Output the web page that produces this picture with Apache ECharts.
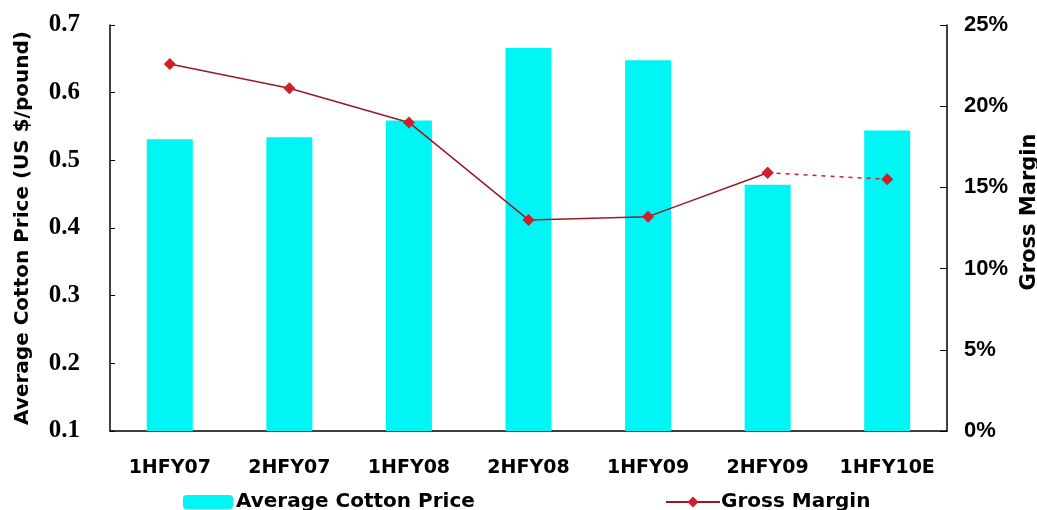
<!DOCTYPE html>
<html><head><meta charset="utf-8">
<script src="https://cdn.jsdelivr.net/npm/echarts@6/dist/echarts.min.js"></script>
<style>html,body{margin:0;padding:0;background:#fff}#c{width:1037px;height:510px}</style>
</head><body><div id="c"></div>
<script>
var categories = ['1HFY07','2HFY07','1HFY08','2HFY08','1HFY09','2HFY09','1HFY10E'];
var cottonPrice = [0.531, 0.534, 0.559, 0.666, 0.648, 0.464, 0.544];
var grossMarginActual = [22.6, 21.1, 19.0, 13.0, 13.2, 15.9, null];
var grossMarginEstimate = [null, null, null, null, null, 15.9, 15.5];
var leftTicks = {min: 0.1, max: 0.7, interval: 0.1};
var rightTicks = {min: 0, max: 25, interval: 5};

var font = 'DejaVu Sans, Liberation Sans, sans-serif';
var chart = echarts.init(document.getElementById('c'));
chart.setOption({
  backgroundColor: '#fff',
  animation: false,
  grid: {left: 110, right: 90, top: 25, bottom: 79, containLabel: false, outerBoundsMode: 'none'},
  legend: [
    {data: ['Average Cotton Price'], left: 178, top: 487, itemWidth: 50, itemHeight: 14, itemGap: 4,
     textStyle: {fontFamily: font, fontWeight: 'bold', fontSize: 20, color: '#000', padding: [0,0,0,-2]}},
    {data: ['Gross Margin'], left: 660, top: 487, itemWidth: 54, itemHeight: 14,
     textStyle: {fontFamily: font, fontWeight: 'bold', fontSize: 20, color: '#000', padding: [0,0,0,-4]}}
  ],
  xAxis: {
    type: 'category', data: categories,
    axisLine: {lineStyle: {color: '#000', width: 1.5}},
    axisTick: {show: false},
    axisLabel: {interval: 0, fontFamily: font, fontWeight: 'bold', fontSize: 19, color: '#000', margin: 28}
  },
  yAxis: [
    {type: 'value', min: leftTicks.min, max: leftTicks.max, interval: leftTicks.interval,
     name: 'Average Cotton Price (US $/pound)', nameLocation: 'middle', nameGap: 77, nameRotate: 90,
     nameTextStyle: {fontFamily: font, fontWeight: 'bold', fontSize: 20, color: '#000'},
     axisLine: {show: true, lineStyle: {color: '#000', width: 1.5}},
     axisTick: {show: true, inside: true, length: 5, lineStyle: {color: '#000'}},
     splitLine: {show: false},
     axisLabel: {fontFamily: 'Liberation Serif, Times New Roman, serif', fontWeight: 'bold', fontSize: 25, color: '#000', margin: 30,
       formatter: function (v) { return v.toFixed(1); }}
    },
    {type: 'value', min: rightTicks.min, max: rightTicks.max, interval: rightTicks.interval,
     name: 'Gross Margin', nameLocation: 'middle', nameGap: 62, nameRotate: 90,
     nameTextStyle: {fontFamily: font, fontWeight: 'bold', fontSize: 21, color: '#000', padding: [0, 0, 0, 32]},
     axisLine: {show: true, lineStyle: {color: '#000', width: 1.5}},
     axisTick: {show: true, inside: true, length: 7, lineStyle: {color: '#000'}},
     splitLine: {show: false},
     axisLabel: {fontFamily: 'Liberation Sans, Arial, sans-serif', fontWeight: 'bold', fontSize: 22, color: '#000', margin: 17,
       formatter: '{value}%'}
    }
  ],
  series: [
    {name: 'Average Cotton Price', type: 'bar', data: cottonPrice, barWidth: 46,
     itemStyle: {color: '#00f5f5'}},
    {name: 'Gross Margin', type: 'line', yAxisIndex: 1, data: grossMarginActual,
     symbol: 'diamond', symbolSize: 12, connectNulls: false,
     lineStyle: {color: '#9a1a22', width: 1.5},
     itemStyle: {color: '#d01e2c'}},
    {name: 'Gross Margin (E)', type: 'line', yAxisIndex: 1, data: grossMarginEstimate,
     symbol: 'diamond', symbolSize: 12,
     lineStyle: {color: '#d01e2c', width: 1.5, type: [4, 5]},
     itemStyle: {color: '#d01e2c'}}
  ]
});
</script></body></html>
